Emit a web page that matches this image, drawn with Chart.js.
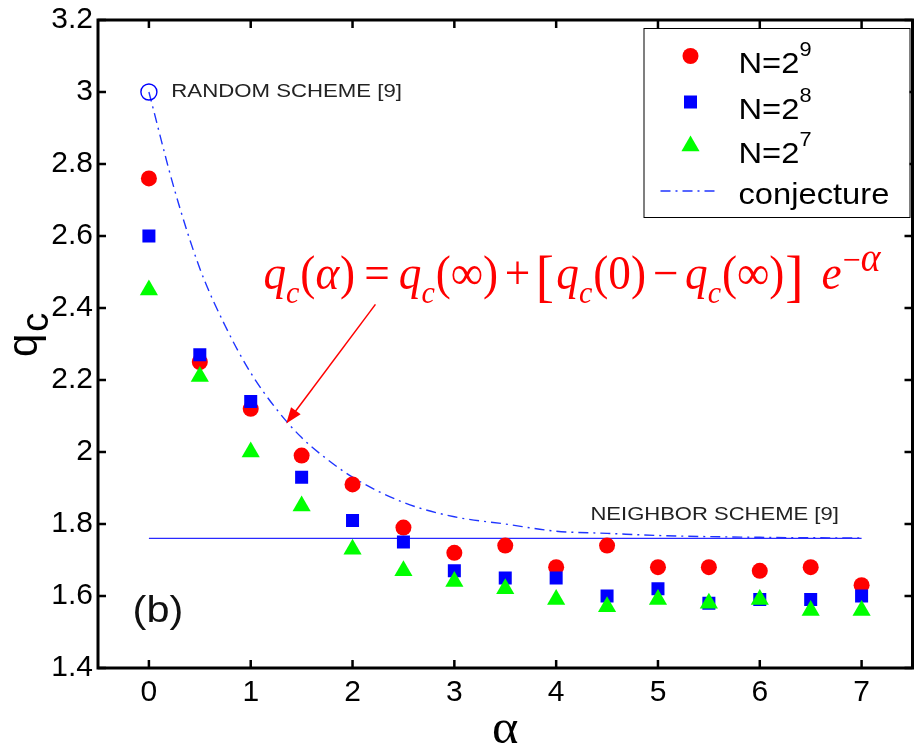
<!DOCTYPE html>
<html>
<head>
<meta charset="utf-8">
<script src="https://cdn.jsdelivr.net/npm/chart.js@4.4.1/dist/chart.umd.min.js"></script>
<style>
  html, body { margin: 0; padding: 0; background: #fff; }
  #wrap { width: 923px; height: 751px; }
</style>
</head>
<body>
<div id="wrap"><canvas id="chart" width="923" height="751"></canvas></div>
<script>
// alpha values where q_c was measured
const ALPHA = [0, 0.5, 1, 1.5, 2, 2.5, 3, 3.5, 4, 4.5, 5, 5.5, 6, 6.5, 7];
// q_c for the three system sizes
const Q_N512 = [2.76, 2.25, 2.12, 1.99, 1.91, 1.79, 1.72, 1.74, 1.68, 1.74, 1.68, 1.68, 1.67, 1.68, 1.63];
const Q_N256 = [2.60, 2.27, 2.14, 1.93, 1.81, 1.75, 1.67, 1.65, 1.65, 1.60, 1.62, 1.58, 1.59, 1.59, 1.60];
const Q_N128 = [2.45, 2.21, 2.00, 1.85, 1.73, 1.67, 1.64, 1.62, 1.59, 1.57, 1.59, 1.58, 1.59, 1.56, 1.56];
// conjecture curve
const CONJ_ALPHA = [0, 0.25, 0.5, 0.75, 1, 1.25, 1.5, 1.75, 2, 2.5, 3, 3.5, 4, 4.5, 5, 6, 7];
const CONJ_Q = [3.00, 2.73, 2.51, 2.35, 2.22, 2.12, 2.04, 1.98, 1.93, 1.86, 1.82, 1.80, 1.78, 1.774, 1.768, 1.763, 1.761];
// reference values
const RANDOM_ALPHA = [0];
const RANDOM_Q = [3.0];
const NEIGHBOR_ALPHA = [0, 7];
const NEIGHBOR_Q = [1.76, 1.76];
// ticks
const X_TICKS = [0, 1, 2, 3, 4, 5, 6, 7];
const Y_TICKS = [1.4, 1.6, 1.8, 2, 2.2, 2.4, 2.6, 2.8, 3, 3.2];

const SANS = "'Liberation Sans', Arial, Helvetica, sans-serif";
const SERIF = "'Liberation Serif', 'Times New Roman', serif";
const RED = '#ff0000', BLUE = '#0000ff', GREEN = '#00ff00';

const pts = (xs, ys) => xs.map((x, i) => ({ x: x, y: ys[i] }));

function txt(ctx, s, x, y, font, sx, color, align, base) {
  ctx.save();
  ctx.font = font;
  ctx.fillStyle = color;
  ctx.textAlign = align || 'left';
  ctx.textBaseline = base || 'alphabetic';
  ctx.translate(x, y);
  ctx.scale(sx, 1);
  ctx.fillText(s, 0, 0);
  ctx.restore();
}

// box, inward ticks, legend, labels
const decor = {
  id: 'decor',
  afterDraw(chart) {
    const ctx = chart.ctx;
    const xs = chart.scales.x, ys = chart.scales.y;
    const { left, right, top, bottom } = chart.chartArea;

    ctx.save();
    ctx.strokeStyle = '#000';
    ctx.lineWidth = 2.5;
    ctx.beginPath();
    X_TICKS.forEach(v => {
      const p = xs.getPixelForValue(v);
      ctx.moveTo(p, bottom); ctx.lineTo(p, bottom - 8);
      ctx.moveTo(p, top); ctx.lineTo(p, top + 8);
    });
    Y_TICKS.forEach(v => {
      const p = ys.getPixelForValue(v);
      ctx.moveTo(left, p); ctx.lineTo(left + 8, p);
      ctx.moveTo(right, p); ctx.lineTo(right - 8, p);
    });
    ctx.stroke();
    ctx.lineWidth = 3;
    ctx.strokeRect(left, top, right - left, bottom - top);
    ctx.restore();

    // annotations
    txt(ctx, 'RANDOM SCHEME [9]', xs.getPixelForValue(0.22), ys.getPixelForValue(3.0),
        '18.5px ' + SANS, 1.2, '#222', 'left', 'middle');
    txt(ctx, 'NEIGHBOR SCHEME [9]', xs.getPixelForValue(4.337), ys.getPixelForValue(1.825),
        '18.5px ' + SANS, 1.19, '#222', 'left', 'middle');
    txt(ctx, '(b)', xs.getPixelForValue(-0.16), ys.getPixelForValue(1.527),
        '36px ' + SANS, 1.15, '#111');

    // arrow
    const ax0 = xs.getPixelForValue(2.225), ay0 = ys.getPixelForValue(2.41);
    const ax1 = xs.getPixelForValue(1.349), ay1 = ys.getPixelForValue(2.079);
    const ang = Math.atan2(ay1 - ay0, ax1 - ax0);
    ctx.save();
    ctx.strokeStyle = RED; ctx.fillStyle = RED; ctx.lineWidth = 1.5;
    ctx.beginPath();
    ctx.moveTo(ax0, ay0);
    ctx.lineTo(ax1 - 12 * Math.cos(ang), ay1 - 12 * Math.sin(ang));
    ctx.stroke();
    ctx.beginPath();
    ctx.moveTo(ax1, ay1);
    ctx.lineTo(ax1 - 16 * Math.cos(ang) + 6 * Math.sin(ang), ay1 - 16 * Math.sin(ang) - 6 * Math.cos(ang));
    ctx.lineTo(ax1 - 16 * Math.cos(ang) - 6 * Math.sin(ang), ay1 - 16 * Math.sin(ang) + 6 * Math.cos(ang));
    ctx.closePath();
    ctx.fill();
    ctx.restore();

    // formula: [text, style, gap after (em)]
    const F = [
      ['q', 'i', 0], ['c', 's', 0.02], ['(', 'r', 0], ['α', 'i', 0.02], [')', 'r', 0.2], ['=', 'r', 0.2],
      ['q', 'i', 0], ['c', 's', 0.02], ['(∞)', 'r', 0.15], ['+', 'r', 0.12], ['[', 'b', 0.05],
      ['q', 'i', 0], ['c', 's', 0.02], ['(0)', 'r', 0.15], ['−', 'r', 0.15], ['q', 'i', 0], ['c', 's', 0.02],
      ['(∞)', 'r', 0.02], [']', 'b', 0.4], ['e', 'i', 0.02], ['−', 'pr', 0], ['α', 'pi', 0]
    ];
    const EM = 48;
    const fonts = {
      r: [EM + 'px ' + SERIF, 0], i: ['italic ' + EM + 'px ' + SERIF, 0], s: ['italic 32px ' + SERIF, 14],
      b: ['58px ' + SERIF, 6], pr: ['34px ' + SERIF, -18], pi: ['italic 40px ' + SERIF, -18]
    };
    ctx.save();
    let total = 0;
    const widths = F.map(([s, k, g]) => {
      ctx.font = fonts[k][0];
      const w = ctx.measureText(s).width + g * EM;
      total += w;
      return w;
    });
    const sx = 617 / total;
    let fx = xs.getPixelForValue(1.125);
    const fy = ys.getPixelForValue(2.452);
    F.forEach(([s, k], i) => {
      txt(ctx, s, fx, fy + fonts[k][1], fonts[k][0], sx, RED);
      fx += widths[i] * sx;
    });
    ctx.restore();

    // legend
    const lx = right - 269, ly = top + 8, lw = 266, lh = 189;
    ctx.save();
    ctx.fillStyle = '#fff';
    ctx.fillRect(lx, ly, lw, lh);
    ctx.strokeStyle = '#000'; ctx.lineWidth = 1;
    ctx.strokeRect(lx + 0.5, ly + 0.5, lw, lh);
    const rows = [
      { ds: 0, label: 'N=2', sup: '9', y: 28 },
      { ds: 1, label: 'N=2', sup: '8', y: 74 },
      { ds: 2, label: 'N=2', sup: '7', y: 118 }
    ];
    rows.forEach(r => {
      const d = chart.data.datasets[r.ds];
      ctx.fillStyle = d.backgroundColor;
      Chart.helpers.drawPoint(ctx, { pointStyle: d.pointStyle, radius: d.pointRadius, rotation: 0, borderWidth: 0 },
        lx + 47, ly + r.y);
      ctx.font = '30px ' + SANS;
      const w = ctx.measureText(r.label).width * 1.09;
      txt(ctx, r.label, lx + 95, ly + r.y + 17, '30px ' + SANS, 1.09, '#000');
      txt(ctx, r.sup, lx + 95 + w, ly + r.y, '20px ' + SANS, 1.09, '#000');
    });
    const cd = chart.data.datasets[3];
    ctx.strokeStyle = cd.borderColor; ctx.lineWidth = cd.borderWidth;
    ctx.setLineDash(cd.borderDash);
    ctx.beginPath();
    ctx.moveTo(lx + 17, ly + 163); ctx.lineTo(lx + 75, ly + 163);
    ctx.stroke();
    ctx.setLineDash([]);
    txt(ctx, 'conjecture', lx + 95, ly + 176, '30px ' + SANS, 1.09, '#000');
    ctx.restore();

    // axis titles
    txt(ctx, 'α', (left + right) / 2, 743, '48px ' + SERIF, 1.05, '#000', 'center');
    ctx.save();
    ctx.translate(37, 357);
    ctx.rotate(-Math.PI / 2);
    ctx.fillStyle = '#000';
    ctx.font = '42px ' + SANS;
    const qw = ctx.measureText('q').width;
    ctx.fillText('q', 0, 0);
    ctx.font = '38px ' + SANS;
    ctx.fillText('c', qw + 2, 11);
    ctx.restore();
  }
};

new Chart(document.getElementById('chart'), {
  type: 'scatter',
  data: {
    datasets: [
      { label: 'N=2^9', data: pts(ALPHA, Q_N512), pointStyle: 'circle', pointRadius: 8,
        backgroundColor: RED, borderColor: RED, pointBorderWidth: 0, order: 4 },
      { label: 'N=2^8', data: pts(ALPHA, Q_N256), pointStyle: 'rect', pointRadius: 9.2,
        backgroundColor: BLUE, borderColor: BLUE, pointBorderWidth: 0, order: 3 },
      { label: 'N=2^7', data: pts(ALPHA, Q_N128), pointStyle: 'triangle', pointRadius: 10.5,
        backgroundColor: GREEN, borderColor: GREEN, pointBorderWidth: 0, order: 2 },
      { label: 'conjecture', data: pts(CONJ_ALPHA, CONJ_Q), showLine: true, pointRadius: 0,
        borderColor: '#1f35ff', borderWidth: 1.4, borderDash: [10, 5, 2, 5],
        cubicInterpolationMode: 'monotone', order: 6 },
      { label: 'neighbor', data: pts(NEIGHBOR_ALPHA, NEIGHBOR_Q), showLine: true, pointRadius: 0,
        borderColor: '#2a2aff', borderWidth: 1.3, order: 5 },
      { label: 'random', data: pts(RANDOM_ALPHA, RANDOM_Q), pointStyle: 'circle', pointRadius: 8,
        backgroundColor: 'rgba(0,0,0,0)', borderColor: BLUE, pointBorderWidth: 1.4, order: 1 }
    ]
  },
  options: {
    responsive: false,
    animation: false,
    events: [],
    layout: { padding: { top: 16, right: 3, left: 0, bottom: 0 } },
    plugins: { legend: { display: false }, tooltip: { enabled: false } },
    scales: {
      x: {
        type: 'linear', min: -0.5, max: 7.5,
        grid: { display: false, drawTicks: false },
        border: { display: false },
        afterBuildTicks: s => { s.ticks = X_TICKS.map(v => ({ value: v })); },
        afterFit: s => { s.height = 83; },
        ticks: { color: '#000', padding: 10, font: { family: SANS, size: 30, lineHeight: 1 },
                 callback: v => String(v) }
      },
      y: {
        type: 'linear', min: 1.4, max: 3.2,
        grid: { display: false, drawTicks: false },
        border: { display: false },
        afterBuildTicks: s => { s.ticks = Y_TICKS.map(v => ({ value: v })); },
        afterFit: s => { s.width = 98; },
        ticks: { color: '#000', padding: 5, font: { family: SANS, size: 30, lineHeight: 1 },
                 callback: v => String(+v.toFixed(1)) }
      }
    }
  },
  plugins: [decor]
});
</script>
</body>
</html>
